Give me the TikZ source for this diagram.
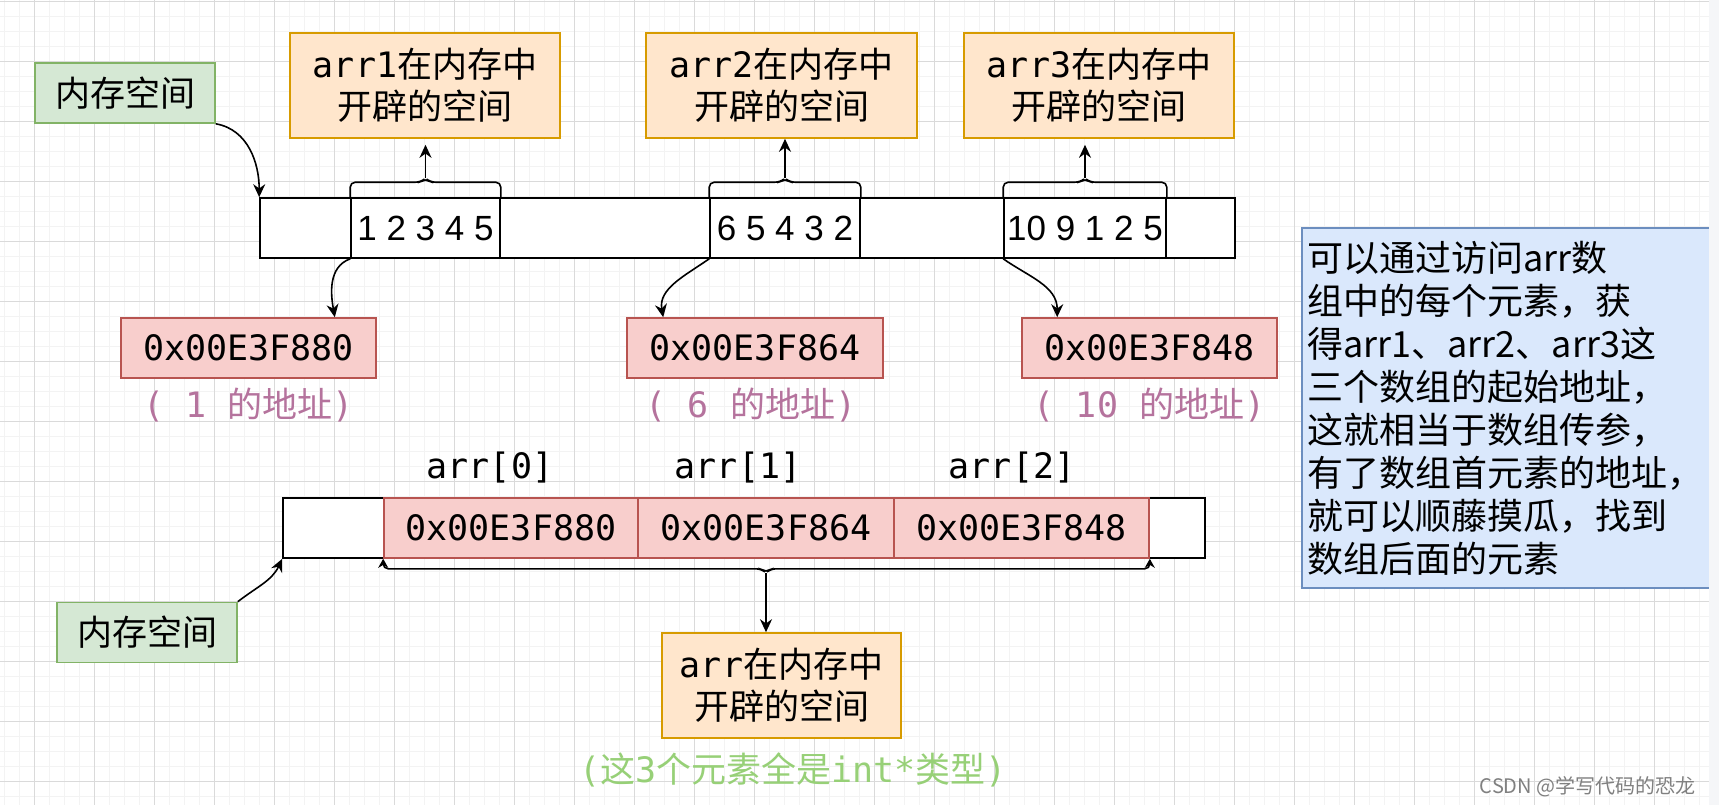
\documentclass[tikz,border=0pt]{standalone}
\usepackage{fontspec}
\setmainfont{Noto Sans CJK SC}
\newfontfamily\codefont{DejaVu Sans Mono}
\newfontfamily\digitfont{Liberation Sans}
\usetikzlibrary{arrows.meta}

\definecolor{memfill}{HTML}{D5E8D4}
\definecolor{memline}{HTML}{82B366}
\definecolor{tagfill}{HTML}{FFE6CC}
\definecolor{tagline}{HTML}{D79B00}
\definecolor{addrfill}{HTML}{F8CECC}
\definecolor{addrline}{HTML}{B85450}
\definecolor{notefill}{HTML}{DAE8FC}
\definecolor{noteline}{HTML}{6C8EBF}
\definecolor{lbltext}{HTML}{B5739D}
\definecolor{typetext}{HTML}{97D077}
\definecolor{gridmajor}{HTML}{DADADA}
\definecolor{gridminor}{HTML}{F3F3F3}
\definecolor{scrollbar}{HTML}{F5F6F8}

\begin{document}
\begin{tikzpicture}[x=0.5pt,y=0.5pt,line width=0.8pt,font=\fontsize{17.5pt}{21pt}\selectfont]
\tikzstyle{mem}=[draw=memline,fill=memfill,minimum width=90pt,minimum height=30pt];
\tikzstyle{tag}=[draw=tagline,fill=tagfill,align=center,minimum height=52.5pt];
\tikzstyle{addr}=[draw=addrline,fill=addrfill,minimum height=30pt,inner sep=0pt,font=\fontsize{17.5pt}{21pt}\codefont];
\tikzstyle{slot}=[draw,fill=white,minimum height=30pt,inner sep=0pt,font=\fontsize{17.5pt}{21pt}\digitfont];
\tikzstyle{lbl}=[text=lbltext];
\tikzstyle{idx}=[font=\fontsize{17.5pt}{21pt}\codefont];
\tikzstyle{note}=[draw=noteline,fill=notefill,minimum width=205pt,minimum height=180pt,text width=199.5pt,align=left,inner xsep=2pt,font=\fontsize{18pt}{21.5pt}\selectfont];
\tikzstyle{link}=[-{Stealth[length=6.5pt,width=6pt]}];
\tikzstyle{brc}=[rounded corners=2.5pt];

% background grid
\useasboundingbox (0,0) rectangle (1719,-805);
\fill[white] (0,0) rectangle (1719,-805);
\foreach \x in {4,19,...,1709} \draw[gridminor,line width=0.5pt] (\x,0) -- (\x,-805);
\foreach \y in {1,16,...,805} \draw[gridminor,line width=0.5pt] (0,-\y) -- (1709,-\y);
\foreach \x in {34,94,...,1709} \draw[gridmajor,line width=0.5pt] (\x,0) -- (\x,-805);
\foreach \y in {1,61,...,805} \draw[gridmajor,line width=0.5pt] (0,-\y) -- (1709,-\y);

% three arrays
\node [mem] (memA) at (125,-93) {内存空间};
\node [tag,minimum width=135pt] (box1) at (425,-85.5) {{\codefont arr1}在内存中\\开辟的空间};
\node [tag,minimum width=135.5pt] (box2) at (781.5,-85.5) {{\codefont arr2}在内存中\\开辟的空间};
\node [tag,minimum width=135pt] (box3) at (1099,-85.5) {{\codefont arr3}在内存中\\开辟的空间};

\node [slot,minimum width=487.5pt] (mem1) at (747.5,-228) {};
\node [slot,minimum width=74.5pt] (cell1) at (425.5,-228) {1 2 3 4 5};
\node [slot,minimum width=75pt] (cell2) at (785,-228) {6 5 4 3 2};
\node [slot,minimum width=81pt] (cell3) at (1085,-228) {10 9 1 2 5};

\node [addr,minimum width=127.5pt] (addr1) at (248.5,-348) {0x00E3F880};
\node [addr,minimum width=128pt] (addr2) at (755,-348) {0x00E3F864};
\node [addr,minimum width=127.5pt] (addr3) at (1149.5,-348) {0x00E3F848};
\node [lbl] (lbl1) at (248.5,-405) {{\codefont( 1 }的地址{\codefont)}};
\node [lbl] (lbl2) at (751,-405) {{\codefont( 6 }的地址{\codefont)}};
\node [lbl] (lbl3) at (1149.5,-405) {{\codefont( 10 }的地址{\codefont)}};

\draw [link] (memA.south east) to[out=-10,in=90] (mem1.north west);
\draw [link] (cell1.south west) to[out=200,in=100] ([xshift=-21pt]addr1.north east);
\draw [link] (cell2.south west) to[out=215,in=100] ([xshift=18.5pt]addr2.north west);
\draw [link] (cell3.south west) to[out=-35,in=90] ([xshift=18pt]addr3.north west);

\foreach \i in {1,2,3}
  \draw [brc] (cell\i.north west) |- ([xshift=-2.5pt,yshift=7.5pt]cell\i.north)
    -- ([yshift=9.5pt]cell\i.north) coordinate (tip\i)
    -- ([xshift=2.5pt,yshift=7.5pt]cell\i.north) -| (cell\i.north east);
\draw [link,shorten >=3pt] (tip1) -- (tip1 |- box1.south);
\draw [link] (tip2) -- (tip2 |- box2.south);
\draw [link,shorten >=3pt] (tip3) -- (tip3 |- box3.south);

% pointer array
\node [idx] (idx0) at (490,-467) {arr[0]};
\node [idx] (idx1) at (738,-467) {arr[1]};
\node [idx] (idx2) at (1012,-467) {arr[2]};

\node [slot,minimum width=461pt] (mem2) at (744,-528) {};
\node [addr,minimum width=127pt] (c0) at (511,-528) {0x00E3F880};
\node [addr,minimum width=128pt] (c1) at (766,-528) {0x00E3F864};
\node [addr,minimum width=127.5pt] (c2) at (1021.5,-528) {0x00E3F848};

\node [mem] (memB) at (147,-632.5) {内存空间};
\node [tag,minimum width=119.5pt] (box4) at (781.5,-685.5) {{\codefont arr}在内存中\\开辟的空间};
\node [text=typetext] (typ) at (793,-770) {{\codefont(}这{\codefont 3}个元素全是{\codefont int*}类型{\codefont)}};

\draw [link] (memB.north east) to[out=38,in=-115] (mem2.south west);
\draw [brc,{Stealth[length=4.5pt,width=5pt]}-{Stealth[length=4.5pt,width=5pt]}]
  (c0.south west) |- ([xshift=-2.5pt,yshift=-5pt]c1.south)
  -- ([yshift=-7pt]c1.south) coordinate (tipL)
  -- ([xshift=2.5pt,yshift=-5pt]c1.south) -| (c2.south east);
\draw [link] (tipL) -- (tipL |- box4.north);

\node [note] (note) at (1507,-408) {可以通过访问arr数\\组中的每个元素，获\\得arr1、arr2、arr3这\\三个数组的起始地址，\\这就相当于数组传参，\\有了数组首元素的地址，\\就可以顺藤摸瓜，找到\\数组后面的元素};

\fill [scrollbar] (1709,0) rectangle (1719,-805);
\node [anchor=east,text=gray,font=\fontsize{10pt}{12pt}\selectfont] (mark) at (1703,-787) {CSDN @学写代码的恐龙};
\end{tikzpicture}
\end{document}
